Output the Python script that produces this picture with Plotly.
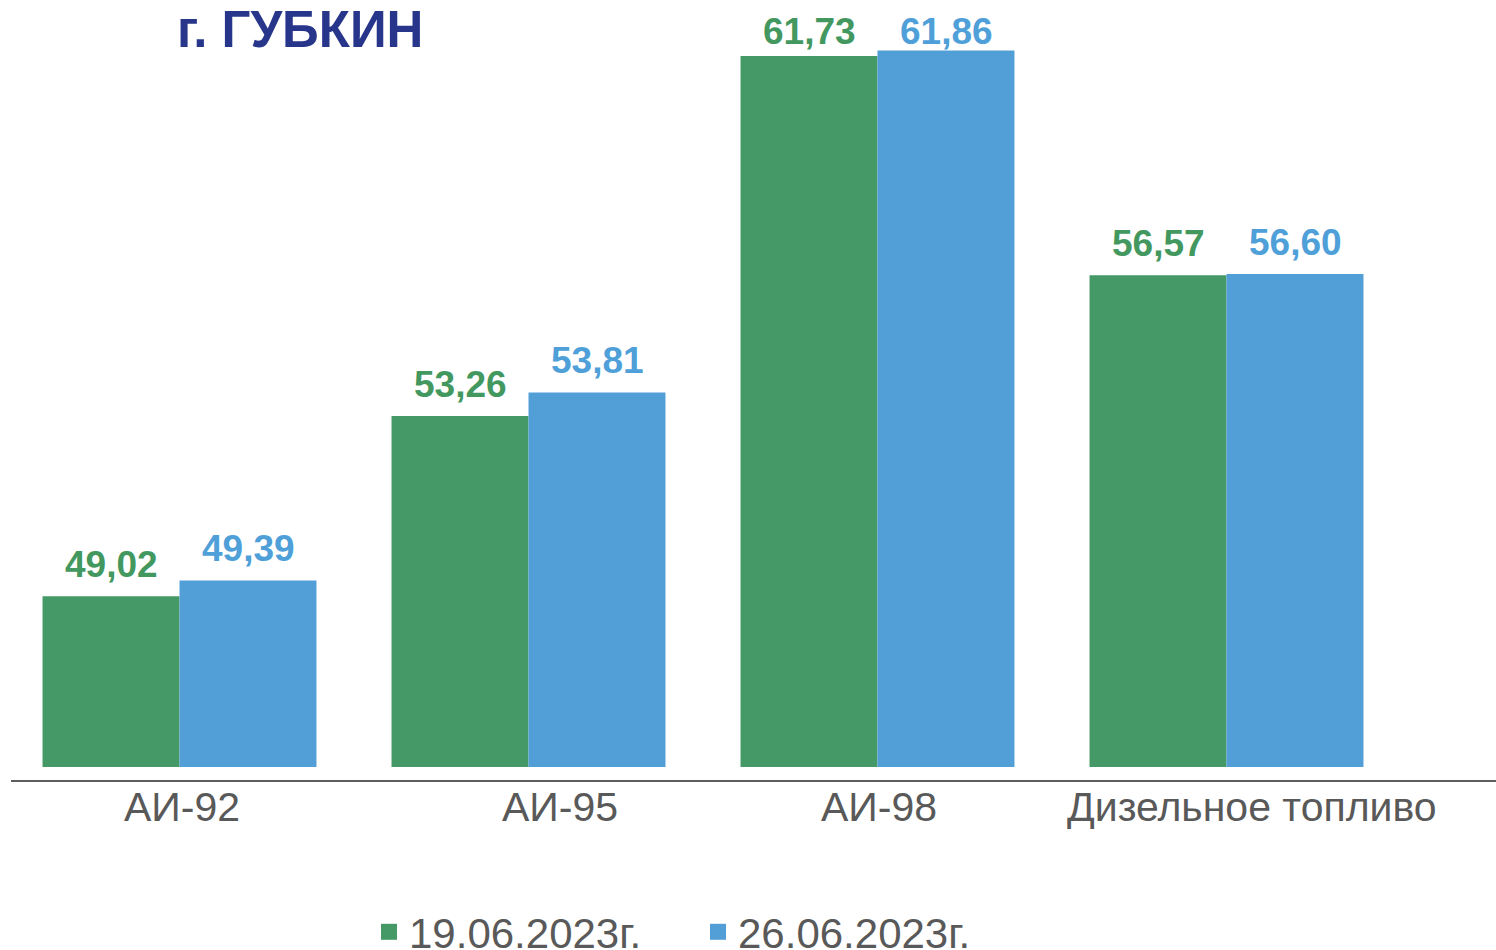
import plotly.graph_objects as go

categories = ["АИ-92", "АИ-95", "АИ-98", "Дизельное топливо"]
series_names = ["19.06.2023г.", "26.06.2023г."]
values_0619 = [49.02, 53.26, 61.73, 56.57]
values_0626 = [49.39, 53.81, 61.86, 56.60]
title_text = "г. ГУБКИН"

BASE = 45.0
Y_MIN, Y_MAX = 44.67, 63.05
PLOT_H = 781
bar_colors = ["#459966", "#529fd8"]
label_colors = ["#43985f", "#4f9fd9"]
FONT = "Liberation Sans, Arial, sans-serif"

fig = go.Figure()
for name, vals, col in zip(series_names, [values_0619, values_0626], bar_colors):
    fig.add_trace(go.Bar(
        x=categories,
        y=[v - BASE for v in vals],
        base=BASE,
        name=name,
        marker=dict(color=col, line=dict(width=0)),
        hoverinfo="skip",
        showlegend=False,
    ))
# legend entries with larger square symbols
for name, col in zip(series_names, bar_colors):
    fig.add_trace(go.Scatter(
        x=[None], y=[None], mode="markers", name=name,
        marker=dict(symbol="square", size=20, color=col),
        showlegend=True,
    ))

annotations = []
px_per_unit = PLOT_H / (Y_MAX - Y_MIN)
# value labels (kept inside the top edge, as in the original)
for i, (vals, col) in enumerate(zip([values_0619, values_0626], label_colors)):
    shift = -68.5 if i == 0 else 68.5
    for c, v in zip(categories, vals):
        top_px = PLOT_H - (v - Y_MIN) * px_per_unit
        ys = min(32, top_px - 31)
        annotations.append(dict(
            x=c, y=v, xref="x", yref="y", xshift=shift, yshift=ys,
            text=f"{v:.2f}".replace(".", ","), showarrow=False,
            yanchor="middle", xanchor="center",
            font=dict(family=FONT, size=37, color=col, weight="bold"),
        ))

# category labels (slightly offset as in the original)
label_shifts = [2, 31, 1, 25]
for c, s in zip(categories, label_shifts):
    annotations.append(dict(
        x=c, y=-0.033, xref="x", yref="paper", xshift=s,
        text=c, showarrow=False, yanchor="middle", xanchor="center",
        font=dict(family=FONT, size=41, color="#595959"),
    ))

# title
annotations.append(dict(
    x=(300 - 5) / 1396, y=(781 - 30) / 781, xref="paper", yref="paper",
    text=title_text, showarrow=False,
    font=dict(family=FONT, size=51, color="#27358a", weight="bold"),
    xanchor="center", yanchor="middle",
))

fig.update_layout(
    width=1496, height=950,
    margin=dict(l=5, r=95, t=0, b=169, autoexpand=False),
    paper_bgcolor="white", plot_bgcolor="white",
    barmode="group", bargap=0.215, bargroupgap=0,
    showlegend=True,
    legend=dict(
        orientation="h", x=(369 - 5) / 1396, xanchor="left",
        y=(781 - 932) / 781, yanchor="middle",
        font=dict(family=FONT, size=42, color="#595959"),
        entrywidth=284, entrywidthmode="pixels",
        bgcolor="rgba(0,0,0,0)",
    ),
    xaxis=dict(range=[-0.5, 3.5], autorange=False, showticklabels=False,
               showline=False, showgrid=False, zeroline=False, ticks=""),
    yaxis=dict(range=[Y_MIN, Y_MAX], autorange=False, visible=False,
               showgrid=False, zeroline=False),
    annotations=annotations,
    shapes=[dict(type="line", xref="paper", yref="paper",
                 x0=(11 - 5) / 1396, x1=(1496 - 5) / 1396, y0=0, y1=0,
                 line=dict(color="#5e5e5e", width=2))],
)

fig.write_html("out.html")
